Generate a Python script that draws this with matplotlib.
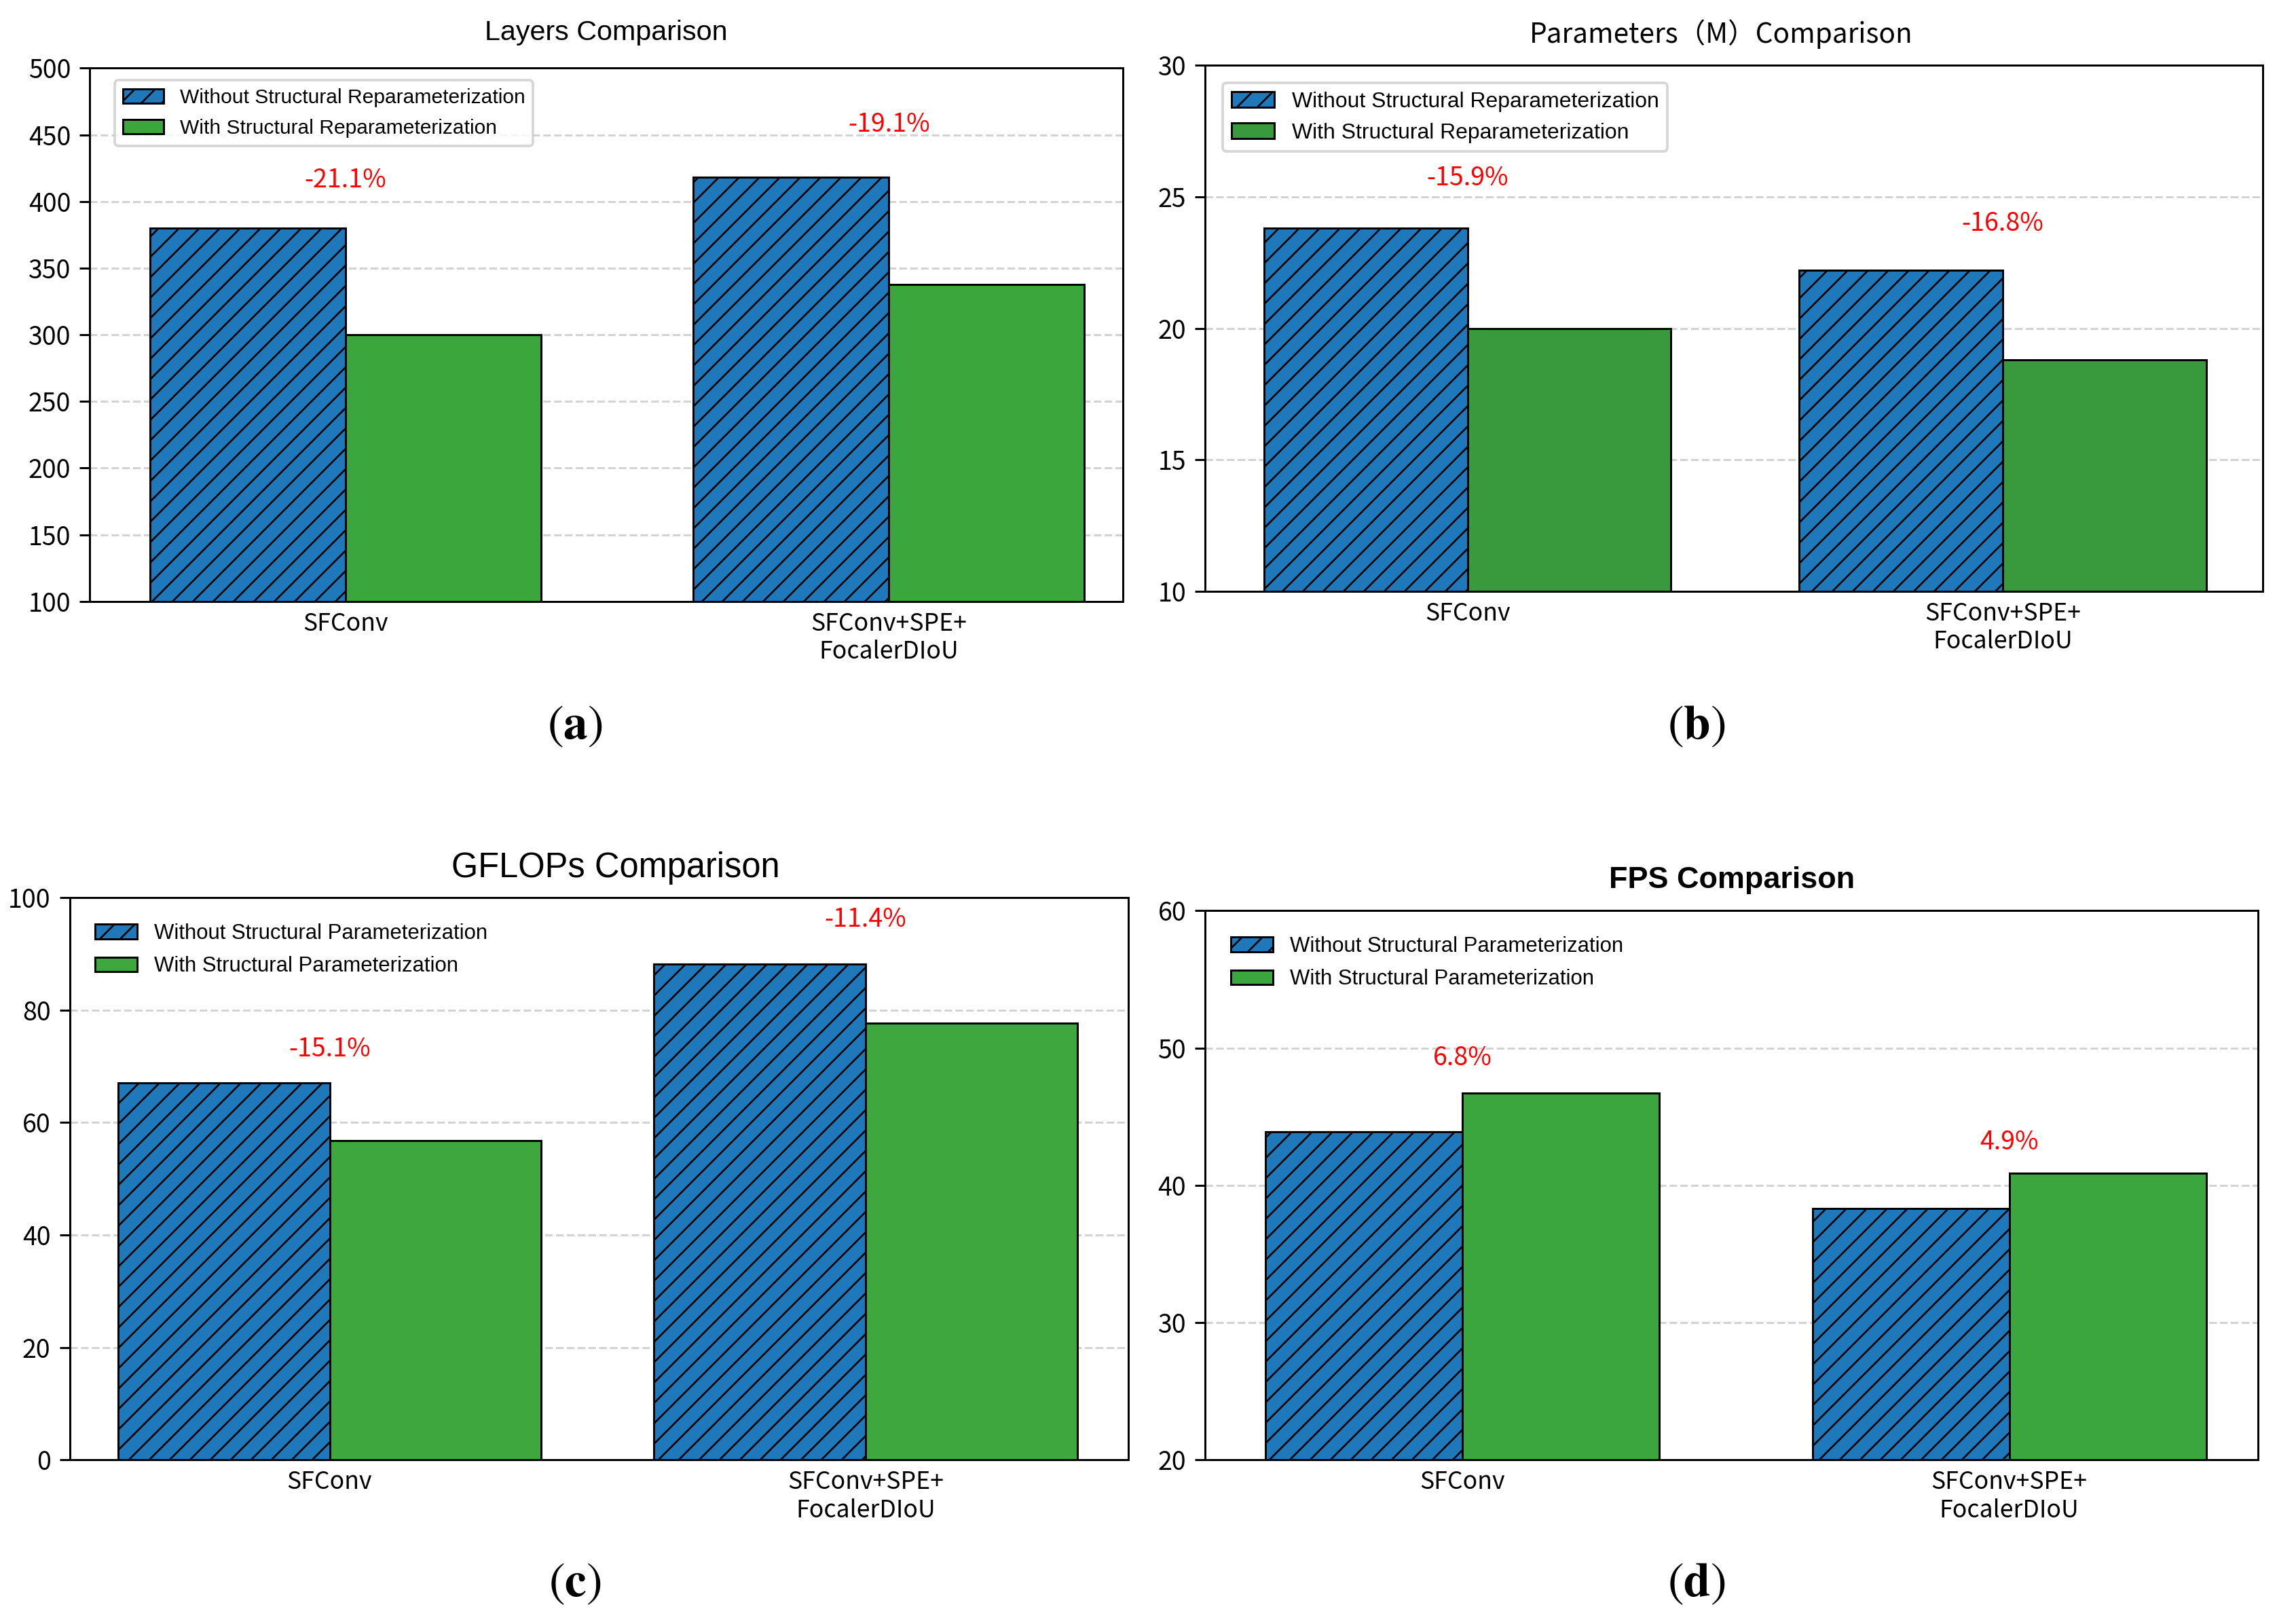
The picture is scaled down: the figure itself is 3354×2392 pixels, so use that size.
"""Structural reparameterization comparison: layers, params, GFLOPs, FPS (2x2 panels)."""

import matplotlib

matplotlib.use("Agg")
import matplotlib.pyplot as plt
import numpy as np

categories = ["SFConv", "SFConv+SPE+\nFocalerDIoU"]

layers_without = [380, 418]
layers_with = [300, 338]
layers_pct = ["-21.1%", "-19.1%"]

params_without = [23.8, 22.2]
params_with = [20.0, 18.8]
params_pct = ["-15.9%", "-16.8%"]

gflops_without = [67.0, 88.2]
gflops_with = [56.8, 77.7]
gflops_pct = ["-15.1%", "-11.4%"]

fps_without = [43.9, 38.3]
fps_with = [46.7, 40.9]
fps_pct = ["6.8%", "4.9%"]

CJK = ["Noto Sans CJK SC", "DejaVu Sans"]
SANS = ["Liberation Sans", "DejaVu Sans"]
BLUE = "#1f78b9"

plt.rcParams["hatch.linewidth"] = 0.7
plt.rcParams["axes.linewidth"] = 0.8
plt.rcParams["mathtext.fontset"] = "stix"


def draw_panel(ax, without, with_, pct, names, green, width, xlim, ylim, yticks,
               label_mult, title, title_kw, frame, leg_kw):
    x = np.arange(len(categories))
    ax.bar(x, without, -width, align="edge", color=BLUE, edgecolor="black",
           linewidth=0.8, hatch="///", label=names[0], zorder=2)
    ax.bar(x, with_, width, align="edge", color=green, edgecolor="black",
           linewidth=0.8, label=names[1], zorder=2)
    for xi, a, b, p in zip(x, without, with_, pct):
        ax.text(xi, max(a, b) * label_mult, p, color="red", ha="center", va="center",
                fontsize=10, family=CJK)
    ax.set_xlim(*xlim)
    ax.set_ylim(*ylim)
    ax.set_yticks(yticks)
    ax.set_xticks(x)
    ax.set_xticklabels(categories, family=CJK, fontsize=9.5)
    for t in ax.get_yticklabels():
        t.set_family(CJK)
        t.set_fontsize(10)
    ax.tick_params(axis="x", length=0, pad=4)
    ax.tick_params(axis="y", length=4, width=0.8)
    ax.grid(axis="y", linestyle="--", color="lightgray", linewidth=0.8)
    ax.set_axisbelow(True)
    ax.set_title(title, **title_kw)
    ax.legend(loc="upper left", frameon=frame, **leg_kw)


fig = plt.figure(figsize=(3354 / 270, 2392 / 270), dpi=270)

ax_a = fig.add_axes([0.0395, 0.6297, 0.4535, 0.3283])
ax_b = fig.add_axes([0.5293, 0.6360, 0.4643, 0.3237])
ax_c = fig.add_axes([0.0306, 0.1011, 0.4649, 0.3461])
ax_d = fig.add_axes([0.5293, 0.1011, 0.4624, 0.3381])

reparam = ["Without Structural Reparameterization", "With Structural Reparameterization"]
param = ["Without Structural Parameterization", "With Structural Parameterization"]

leg_a = dict(prop={"family": SANS, "size": 8}, borderaxespad=0.6, labelspacing=0.55,
             bbox_to_anchor=(0.012, 1.0))
leg_b = dict(prop={"family": SANS, "size": 8.5}, borderaxespad=0.8, labelspacing=0.5)
leg_cd = dict(prop={"family": SANS, "size": 8.3}, borderaxespad=0.8, labelspacing=0.6)

draw_panel(ax_a, layers_without, layers_with, layers_pct, reparam, "#3aa63c", 0.36,
           (-0.47, 1.43), (100, 500), np.arange(100, 501, 50), 1.095,
           "Layers Comparison", dict(family=SANS, fontsize=11, pad=11), True, leg_a)
draw_panel(ax_b, params_without, params_with, params_pct, reparam, "#389a3c", 0.38,
           (-0.49, 1.485), (10, 30), np.arange(10, 31, 5), 1.08,
           "Parameters（M）Comparison", dict(family=CJK, fontsize=10.8, pad=9, x=0.488),
           True, leg_b)
draw_panel(ax_c, gflops_without, gflops_with, gflops_pct, param, "#3ea83e", 0.395,
           (-0.485, 1.49), (0, 100), np.arange(0, 101, 20), 1.09,
           "GFLOPs Comparison", dict(family=SANS, fontsize=13.5, pad=8, x=0.516),
           False, leg_cd)
draw_panel(ax_d, fps_without, fps_with, fps_pct, param, "#3ca63e", 0.36,
           (-0.47, 1.455), (20, 60), np.arange(20, 61, 10), 1.055,
           "FPS Comparison", dict(family=SANS, fontsize=12, fontweight="bold", pad=9),
           False, leg_cd)

for lab, (px, py) in zip(["a", "b", "c", "d"],
                         [(0.2526, 0.553), (0.745, 0.553), (0.2526, 0.025), (0.745, 0.025)]):
    fig.text(px, py, r"$(\mathbf{%s})$" % lab, ha="center", va="center", fontsize=19)

fig.savefig("out.png", dpi=270)
